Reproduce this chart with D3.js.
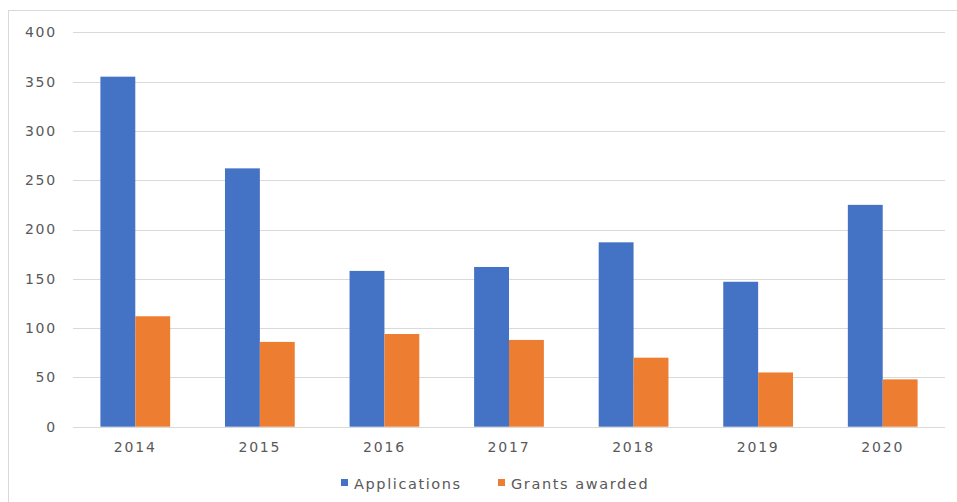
<!DOCTYPE html>
<html>
<head>
<meta charset="utf-8">
<script src="https://cdn.jsdelivr.net/npm/d3@7"></script>
<style>
  html, body { margin: 0; padding: 0; background: #fff; }
  svg { display: block; }
  text { font-family: "DejaVu Sans", Verdana, sans-serif; fill: #595959; }
</style>
</head>
<body>
<svg id="chart" width="957" height="502"></svg>
<script>
const years = ["2014", "2015", "2016", "2017", "2018", "2019", "2020"];
const applications = [355, 262, 158, 162, 187, 147, 225];
const grantsAwarded = [112, 86, 94, 88, 70, 55, 48];
const seriesNames = ["Applications", "Grants awarded"];
const seriesColors = ["#4472C4", "#ED7D31"];
const yTicks = [0, 50, 100, 150, 200, 250, 300, 350, 400];

const svg = d3.select("#chart");

// outer chart frame
svg.append("rect")
  .attr("x", 8.5).attr("y", 10.5)
  .attr("width", 960).attr("height", 500)
  .attr("fill", "none").attr("stroke", "#d9d9d9").attr("stroke-width", 1);

const plot = { left: 73, right: 945, top: 32.3, bottom: 426.7 };

const x = d3.scaleBand().domain(years).range([plot.left, plot.right]).padding(0);
const y = d3.scaleLinear().domain([0, 400]).range([plot.bottom, plot.top]);
const groupWidth = x.bandwidth() * 0.56;
const xs = d3.scaleBand().domain(seriesNames).range([0, groupWidth]).padding(0);

// horizontal gridlines
svg.append("g").selectAll("line").data(yTicks).join("line")
  .attr("x1", plot.left).attr("x2", plot.right)
  .attr("y1", d => Math.round(y(d)) + 0.5).attr("y2", d => Math.round(y(d)) + 0.5)
  .attr("stroke", "#d9d9d9").attr("stroke-width", 1);

// y-axis labels
const yAxis = d3.axisLeft(y).tickValues(yTicks).tickSize(0).tickPadding(0);
const gy = svg.append("g").attr("transform", `translate(${plot.left - 16},0)`).call(yAxis);
gy.select(".domain").remove();
gy.selectAll("text")
  .attr("font-size", 14).attr("letter-spacing", 1.8)
  .style("font-family", '"DejaVu Sans", Verdana, sans-serif').attr("fill", "#595959");

// x-axis labels
const xAxis = d3.axisBottom(x).tickSize(0).tickPadding(0);
const gx = svg.append("g").attr("transform", `translate(0,${plot.bottom + 15})`).call(xAxis);
gx.select(".domain").remove();
gx.selectAll("text")
  .attr("font-size", 14).attr("letter-spacing", 1.8).attr("dy", "0.71em")
  .style("font-family", '"DejaVu Sans", Verdana, sans-serif').attr("fill", "#595959");

// bars
const data = years.map((yr, i) => ({ year: yr, values: [applications[i], grantsAwarded[i]] }));
const groups = svg.append("g").selectAll("g").data(data).join("g")
  .attr("transform", d => `translate(${x(d.year) + (x.bandwidth() - groupWidth) / 2},0)`);
groups.selectAll("rect")
  .data(d => d.values.map((v, j) => ({ name: seriesNames[j], value: v, color: seriesColors[j] })))
  .join("rect")
  .attr("x", d => xs(d.name))
  .attr("width", xs.bandwidth())
  .attr("y", d => y(d.value))
  .attr("height", d => y(0) - y(d.value))
  .attr("fill", d => d.color);

// legend
const legendItems = [
  { name: seriesNames[0], color: seriesColors[0], x: 341 },
  { name: seriesNames[1], color: seriesColors[1], x: 498 }
];
const legend = svg.append("g");
legendItems.forEach(item => {
  legend.append("rect")
    .attr("x", item.x).attr("y", 479).attr("width", 7).attr("height", 7)
    .attr("fill", item.color);
  legend.append("text")
    .attr("x", item.x + 13).attr("y", 489)
    .attr("font-size", 14.5).attr("letter-spacing", 1.6)
    .text(item.name);
});
</script>
</body>
</html>
